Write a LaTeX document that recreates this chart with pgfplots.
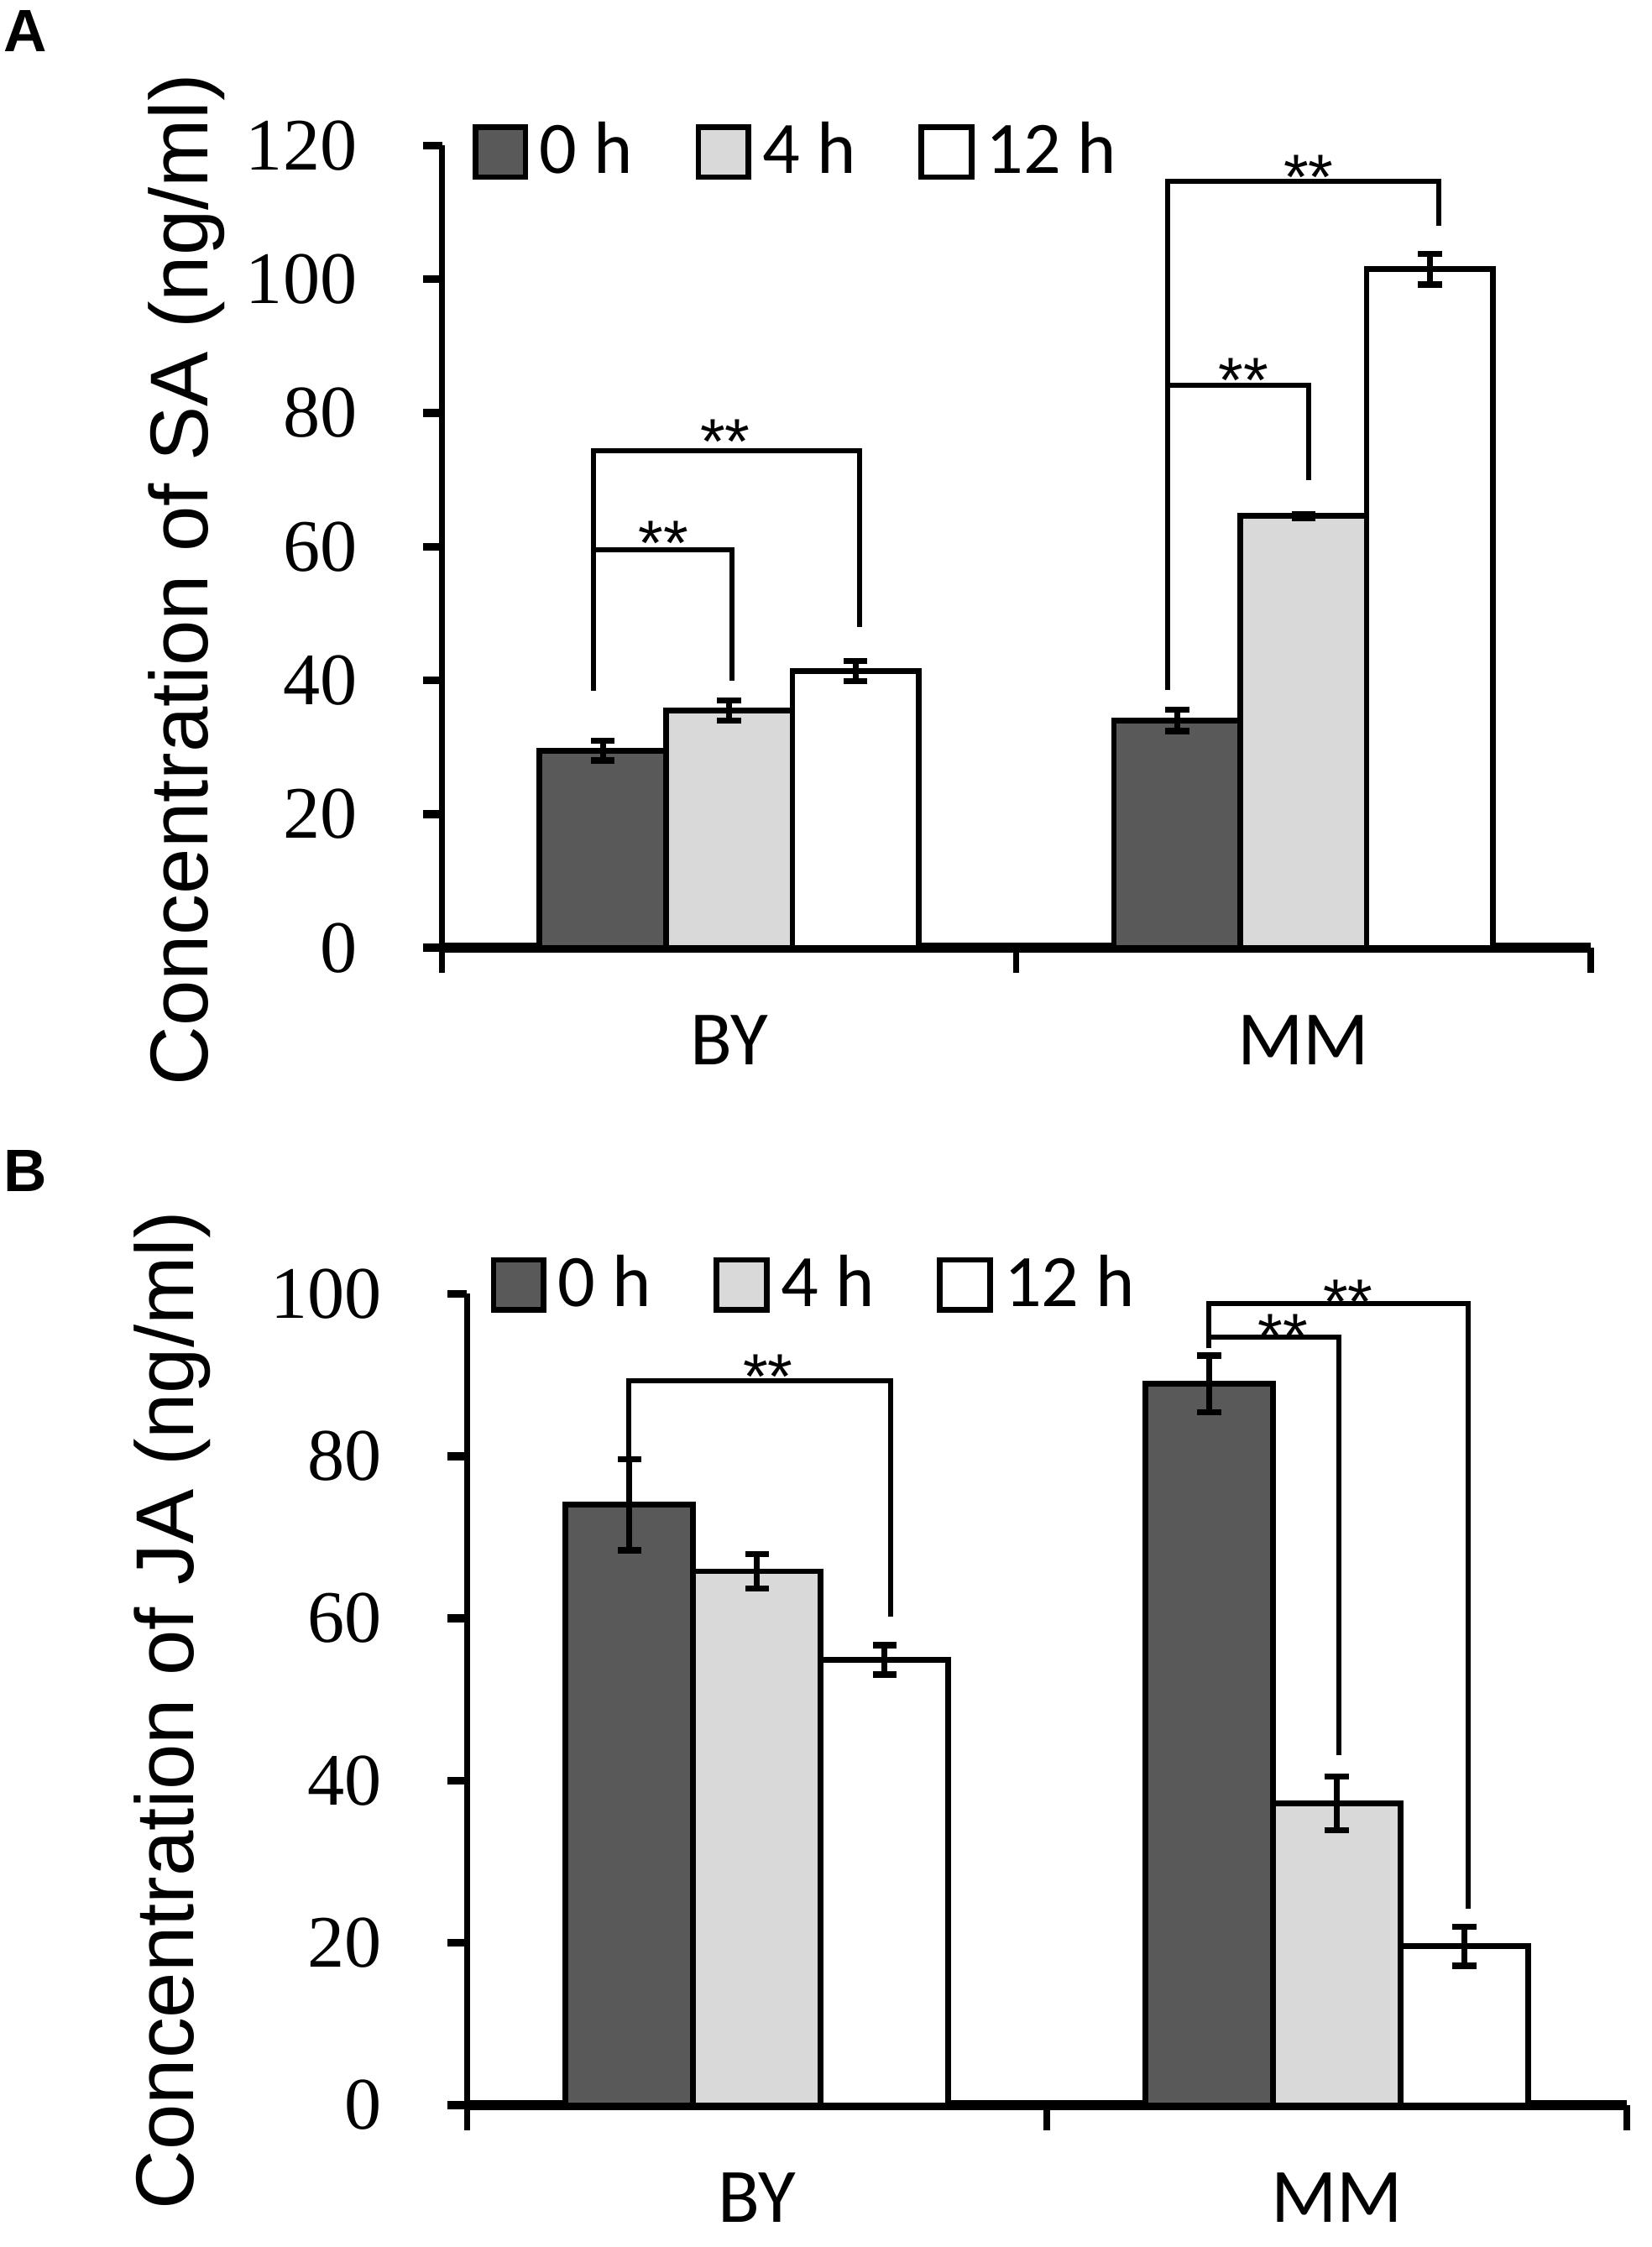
\documentclass[border=0pt]{standalone}
\usepackage{pgfplots}
\pgfplotsset{compat=1.18}
\usepackage{pgfplotstable}
\usepackage{fontspec}
\setmainfont{Liberation Sans}
\newfontfamily\tnr{Liberation Serif}
\newfontfamily\calfont{Carlito}
\definecolor{cdark}{HTML}{595959}
\definecolor{clight}{HTML}{D9D9D9}

% Panel A: SA (ng/ml); x: 0 = BY, 1 = MM
\pgfplotstableread{
x y e
0 29.5 1.5
1 34.0 1.6
}\SAzero
\pgfplotstableread{
x y e
0 35.5 1.5
1 64.6 0.3
}\SAfour
\pgfplotstableread{
x y e
0 41.4 1.5
1 101.5 2.3
}\SAtwelve
% Panel B: JA (ng/ml)
\pgfplotstableread{
x y e
0 74.0 5.6
1 88.9 3.5
}\JAzero
\pgfplotstableread{
x y e
0 65.8 2.1
1 37.2 3.3
}\JAfour
\pgfplotstableread{
x y e
0 54.9 1.8
1 19.6 2.4
}\JAtwelve

\tikzset{
  brk/.style={line width=0.9pt, black},
  star/.style={anchor=base, yshift=-6.5pt, inner sep=0pt, font=\fontsize{11.25}{11.25}\selectfont},
}
\pgfplotsset{
  panel/.style={
    scale only axis, clip=false,
    anchor=south west,
    xmin=-0.5, xmax=1.5, ymin=0,
    ybar=0pt, bar width=0.22,
    axis x line*=bottom, axis y line*=left,
    x axis line style={-, line width=1.7pt},
    y axis line style={-, line width=1.1pt},
    tick align=outside,
    major tick length=3.4pt,
    xtick={0,1}, xticklabels={BY,MM},
    xtick style={draw=none},
    extra x ticks={-0.5,0.5,1.5},
    extra x tick labels={},
    extra x tick style={major tick length=4.4pt, xtick style={draw=black, line width=1.1pt}},
    ytick style={black, line width=1.4pt},
    /pgf/number format/assume math mode=true,
    yticklabel style={font=\tnr\fontsize{13}{13}\selectfont, xshift=-8pt},
    xticklabel style={font=\calfont\fontsize{13.5}{13.5}\selectfont, yshift=-5pt},
    legend columns=3,
    legend style={anchor=west, draw=none, fill=none, inner sep=0pt,
      font=\calfont\fontsize{13}{13}\selectfont,
      /tikz/every even column/.append style={column sep=9pt}},
    legend image code/.code={\draw[##1, line width=1pt] (0pt,-4.4pt) rectangle (8.8pt,4.4pt);},
  },
  eb/.style={error bars/.cd, y dir=both, y explicit,
    error bar style={line width=1pt, black},
    error mark options={rotate=90, mark size=2.1pt, line width=1.1pt, black}},
}

\begin{document}
\begin{tikzpicture}
\useasboundingbox (0pt,0pt) rectangle (290pt,-394.5pt);
\node[font=\bfseries\fontsize{10.5}{10.5}\selectfont] at (4.5pt,-5.5pt) {A};
\node[font=\bfseries\fontsize{10.5}{10.5}\selectfont] at (4.5pt,-205.5pt) {B};
\node[rotate=90, font=\fontsize{14.4}{14.4}\selectfont] at (32.8pt,-101.75pt) {Concentration of SA (ng/ml)};
\node[rotate=90, font=\fontsize{14.4}{14.4}\selectfont] at (30.2pt,-300.25pt) {Concentration of JA (ng/ml)};

\begin{axis}[panel, at={(77.6pt,-166.4pt)}, width=201.65pt, height=140.85pt,
  ymax=120, ytick={0,20,...,120},
  legend style={at={(rel axis cs:0.0255,0.992)}}]
\addplot[fill=cdark, draw=black, line width=1pt, eb] table[x=x, y=y, y error=e] {\SAzero};
\addlegendentry{0 h}
\addplot[fill=clight, draw=black, line width=1pt, eb] table[x=x, y=y, y error=e] {\SAfour};
\addlegendentry{4 h}
\addplot[fill=white, draw=black, line width=1pt, eb] table[x=x, y=y, y error=e] {\SAtwelve};
\addlegendentry{12 h}
% significance brackets
\draw[brk] (axis cs:-0.236,38.5) -- (axis cs:-0.236,74.3) -- (axis cs:0.227,74.3) -- (axis cs:0.227,48);
\draw[brk] (axis cs:-0.236,59.5) -- (axis cs:0.005,59.5) -- (axis cs:0.005,40);
\node[star] at (axis cs:-0.114,62.7) {**};
\node[star] at (axis cs:-0.007,77.9) {**};
\draw[brk] (axis cs:0.764,38.6) -- (axis cs:0.764,114.6) -- (axis cs:1.236,114.6) -- (axis cs:1.236,108);
\draw[brk] (axis cs:0.764,84.1) -- (axis cs:1.009,84.1) -- (axis cs:1.009,69.9);
\node[star] at (axis cs:0.896,87.1) {**};
\node[star] at (axis cs:1.009,117.5) {**};
\end{axis}

\begin{axis}[panel, at={(82pt,-369.6pt)}, width=203.6pt, height=142.45pt,
  ymax=100, ytick={0,20,...,100},
  legend style={at={(rel axis cs:0.0194,1.011)}}]
\addplot[fill=cdark, draw=black, line width=1pt, eb] table[x=x, y=y, y error=e] {\JAzero};
\addlegendentry{0 h}
\addplot[fill=clight, draw=black, line width=1pt, eb] table[x=x, y=y, y error=e] {\JAfour};
\addlegendentry{4 h}
\addplot[fill=white, draw=black, line width=1pt, eb] table[x=x, y=y, y error=e] {\JAtwelve};
\addlegendentry{12 h}
\draw[brk] (axis cs:-0.221,79.3) -- (axis cs:-0.221,89.3) -- (axis cs:0.23,89.3) -- (axis cs:0.23,60.2);
\node[star] at (axis cs:0.019,91.6) {**};
\draw[brk] (axis cs:0.779,93.3) -- (axis cs:0.779,98.8) -- (axis cs:1.226,98.8) -- (axis cs:1.226,24.2);
\draw[brk] (axis cs:0.779,94.7) -- (axis cs:1.004,94.7) -- (axis cs:1.004,43.1);
\node[star] at (axis cs:0.907,96.6) {**};
\node[star] at (axis cs:1.019,100.8) {**};
\end{axis}
\end{tikzpicture}
\end{document}
